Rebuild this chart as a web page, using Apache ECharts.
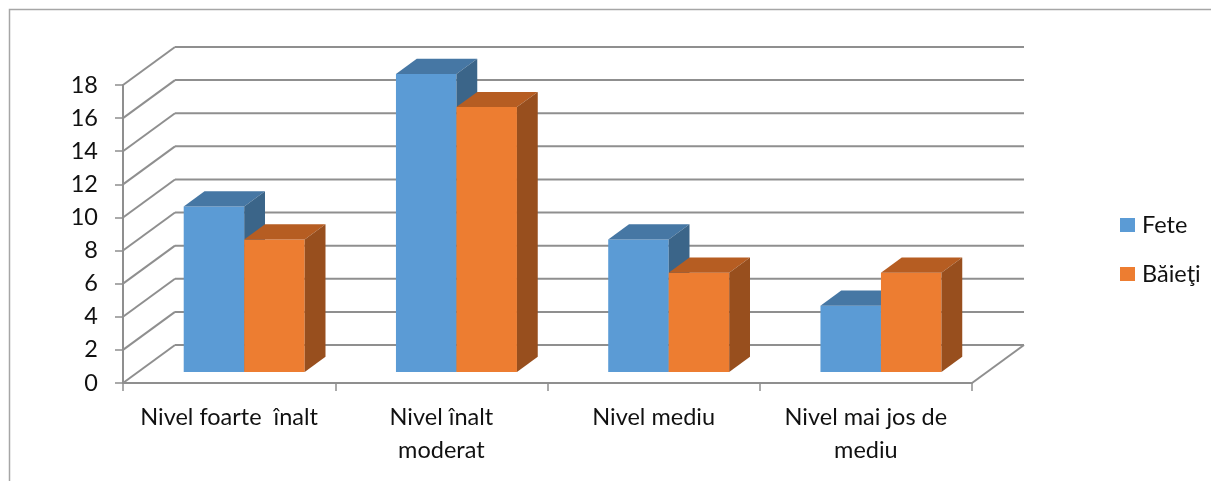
<!DOCTYPE html>
<html>
<head>
<meta charset="utf-8">
<script src="https://cdn.jsdelivr.net/npm/echarts@6/dist/echarts.min.js"></script>
<style>html,body{margin:0;padding:0;background:#fff;}#c{width:1211px;height:481px;}</style>
</head>
<body>
<div id="c"></div>
<script>
const categories = ['Nivel foarte  înalt', 'Nivel înalt\nmoderat', 'Nivel mediu', 'Nivel mai jos de\nmediu'];
const seriesNames = ['Fete', 'Băieţi'];
const fete = [10, 18, 8, 4];
const baieti = [8, 16, 6, 6];
const yTicks = [0, 2, 4, 6, 8, 10, 12, 14, 16, 18];

const FONT = 'Lato';
const FS = 23.5;
const DX = 52, DY = -38;          // depth vector of the floor / walls
const F0 = 0.29, FD = 0.40;       // bar front depth fraction and bar depth
const BARW = 0.285;               // bar width as share of band
const GRID = '#8f8f8f';

const chart = echarts.init(document.getElementById('c'), null, {renderer: 'canvas'});

function wallItem(params, api) {
  const v = api.value(0);
  const band = api.size([1, 0])[0];
  const pL = api.coord([0, v]);
  const pR = api.coord([categories.length - 1, v]);
  const xl = pL[0] - band / 2, xr = pR[0] + band / 2, y = pL[1];
  const children = [
    {type: 'line', shape: {x1: xl, y1: y, x2: xl + DX, y2: y + DY}, style: {stroke: GRID, lineWidth: 2}},
    {type: 'line', shape: {x1: xl + DX, y1: y + DY, x2: xr + DX, y2: y + DY}, style: {stroke: GRID, lineWidth: 2}}
  ];
  if (v === 0) {
    children.push({type: 'line', shape: {x1: xr, y1: y, x2: xr + DX, y2: y + DY}, style: {stroke: GRID, lineWidth: 2}});
  }
  return {type: 'group', children};
}

function barRender(side, cFront, cTop, cSide) {
  return function (params, api) {
    const i = api.value(0), v = api.value(1);
    const band = api.size([1, 0])[0];
    const c = api.coord([i, 0]);
    const t = api.coord([i, v]);
    const w = band * BARW;
    let x0 = side === 0 ? c[0] - w : c[0];
    x0 += F0 * DX;
    const x1 = x0 + w;
    const yB = c[1] + F0 * DY, yT = t[1] + F0 * DY;
    const dx = FD * DX, dy = FD * DY;
    return {type: 'group', children: [
      {type: 'rect', shape: {x: x0, y: yT, width: w, height: yB - yT}, style: {fill: cFront}},
      {type: 'polygon', shape: {points: [[x0, yT], [x1, yT], [x1 + dx, yT + dy], [x0 + dx, yT + dy]]}, style: {fill: cTop}},
      {type: 'polygon', shape: {points: [[x1, yT], [x1 + dx, yT + dy], [x1 + dx, yB + dy], [x1, yB]]}, style: {fill: cSide}}
    ]};
  };
}

chart.setOption({
  animation: false,
  backgroundColor: '#fff',
  graphic: [{type: 'rect', shape: {x: 9.5, y: 9.5, width: 1230, height: 500}, style: {fill: 'none', stroke: '#a6a6a6', lineWidth: 1.5}, z: -10}],
  grid: {left: 123, right: 239, top: 85, bottom: 98},
  legend: {
    orient: 'vertical', left: 1115, top: 208, itemWidth: 15, itemHeight: 14, itemGap: 25, icon: 'rect',
    data: seriesNames,
    textStyle: {fontFamily: FONT, fontSize: FS, lineHeight: 24, color: '#111', padding: [0, 0, 0, 2]}
  },
  xAxis: {
    type: 'category', data: categories,
    axisLine: {lineStyle: {color: GRID, width: 2}},
    axisTick: {show: true, length: 8, lineStyle: {color: GRID, width: 1.5}},
    axisLabel: {fontFamily: FONT, fontSize: FS, color: '#111', margin: 18, lineHeight: 33, interval: 0},
    splitLine: {show: false}
  },
  yAxis: {
    type: 'value', min: 0, max: 18, interval: 2,
    axisLine: {show: true, lineStyle: {color: GRID, width: 2}},
    axisTick: {show: true, length: 8, lineStyle: {color: GRID, width: 1.5}},
    axisLabel: {fontFamily: FONT, fontSize: FS, color: '#111', margin: 25},
    splitLine: {show: false}
  },
  series: [
    {type: 'custom', name: '_wall', silent: true, renderItem: wallItem, data: yTicks.map(v => [v]), encode: {y: 0}, z: 1},
    {type: 'custom', name: seriesNames[0], itemStyle: {color: '#5B9BD5'}, renderItem: barRender(0, '#5B9BD5', '#4677A4', '#3B6589'),
      data: fete.map((v, i) => [i, v]), encode: {x: 0, y: 1}, z: 3},
    {type: 'custom', name: seriesNames[1], itemStyle: {color: '#ED7D31'}, renderItem: barRender(1, '#ED7D31', '#B65D22', '#984F1E'),
      data: baieti.map((v, i) => [i, v]), encode: {x: 0, y: 1}, z: 4}
  ]
});
</script>
</body>
</html>
